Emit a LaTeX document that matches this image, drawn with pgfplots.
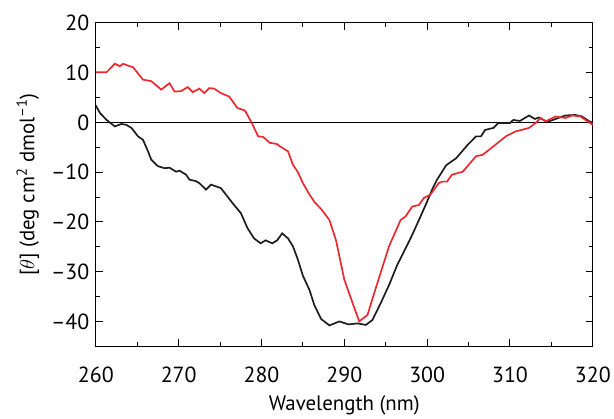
\documentclass[border=0pt]{standalone}
\usepackage{fontspec}
\setmainfont{PT Sans}
\usepackage{pgfplots}
\pgfplotsset{compat=1.18}
\usetikzlibrary{calc}
\definecolor{cdred}{RGB}{234,42,48}
\definecolor{cdblack}{RGB}{30,28,29}
\begin{document}
\begin{tikzpicture}
\begin{axis}[
    scale only axis,
    width=498bp, height=324bp,
    xmin=260, xmax=320,
    ymin=-45, ymax=20,
    xtick={260,270,...,320},
    ytick={-40,-30,...,20},
    yticklabels={\textendash40,\textendash30,\textendash20,\textendash10,0,10,20},
    minor x tick num=1,
    minor y tick num=1,
    tick align=inside,
    major tick length=7bp,
    minor tick length=4bp,
    tick style={black, line width=1pt},
    axis line style={line width=1pt},
    xticklabel style={/pgf/number format/1000 sep={}, yshift=-17bp},
    yticklabel style={xshift=-3bp},
    /pgf/number format/assume math mode=true,
    tick label style={font=\fontsize{22}{25}\selectfont},
    label style={font=\fontsize{21}{24}\selectfont},
    xlabel={Wavelength (nm)},
    ylabel={[$\theta$] (deg cm\textsuperscript{2} dmol\textsuperscript{\textendash1})},
    xlabel style={yshift=-6bp},
    ylabel style={yshift=5bp},
]
\addplot[black, line width=1.8pt] coordinates {(260,0) (320,0)};

% black curve
\addplot[cdblack, line width=1.7pt] coordinates {
(260,3.4) (260.5,1.9) (261.3,0.5) (262.3,-0.8) (263.1,-0.3) (263.7,-0.5)
(264.3,-1.1) (265.1,-2.8) (265.7,-3.5) (266.3,-5.8) (266.7,-7.5) (267.5,-8.8)
(268.3,-9.2) (268.9,-9.1) (269.7,-9.9) (270.1,-9.7) (270.9,-10.5) (271.3,-11.5)
(272.1,-11.8) (272.5,-12.2) (273.3,-13.5) (273.9,-12.5) (275.1,-13.2) (276.5,-16.2)
(277.5,-18.2) (278.3,-21.2) (279.1,-23.3) (279.9,-24.3) (280.5,-23.7) (281.3,-24.3)
(281.9,-23.7) (282.5,-22.3) (283.2,-23.3) (283.8,-24.9) (284.4,-27.6) (285.0,-30.8)
(285.8,-33.7) (286.4,-36.8) (287.2,-39.5) (288.2,-40.8) (289.4,-40.0) (290.5,-40.6)
(291.6,-40.4) (292.6,-40.7) (293.4,-39.7) (294.4,-36.3) (295.4,-32.7) (296.4,-28.6)
(297.4,-25.3) (298.2,-22.6) (299.2,-18.9) (300.0,-15.9) (300.6,-13.5) (301.2,-11.5)
(302.3,-8.6) (303.5,-7.2) (304.9,-4.5) (305.9,-2.8) (306.5,-2.8) (307.0,-1.5)
(308.0,-1.1) (308.6,-0.1) (310.0,-0.1) (310.4,0.5) (311.2,0.3) (312.3,1.4)
(313.0,0.7) (313.5,1.0) (314.5,0.1) (315.5,0.7) (316.7,1.4) (317.9,1.5)
(318.7,1.2) (319.5,0.3) (320,-0.1)
};

% red curve
\addplot[cdred, line width=1.7pt] coordinates {
(260,10.1) (261.3,10.1) (262.3,11.8) (262.9,11.3) (263.3,11.8) (264.1,11.3)
(264.5,11.1) (265.7,8.6) (266.7,8.3) (267.9,6.6) (268.9,7.9) (269.5,6.2)
(270.3,6.3) (271.1,7.1) (271.7,6.1) (272.5,6.8) (273.1,5.9) (273.7,6.9)
(274.3,6.8) (275.1,5.9) (276.1,5.2) (277.1,2.9) (278.0,2.4) (278.8,0)
(279.6,-2.8) (280.2,-2.9) (281.0,-4.1) (281.8,-4.3) (282.6,-5.2) (283.2,-5.8)
(283.8,-8.5) (284.4,-10.0) (285.0,-12.2) (285.8,-14.5) (286.4,-16.0) (287.2,-17.4)
(288.2,-19.6) (289.0,-23.7) (290.0,-31.6) (291.0,-36.3) (291.8,-40.0) (292.8,-38.7)
(293.8,-33.3) (295.4,-24.9) (296.8,-19.6) (297.4,-18.9) (298.2,-16.9) (299.0,-16.6)
(299.6,-15.2) (300.4,-14.5) (301.4,-12.2) (301.8,-11.9) (302.4,-11.9) (303.0,-10.5)
(304.3,-9.9) (305.9,-6.8) (306.7,-6.5) (307.7,-5.2) (309.5,-2.8) (310.7,-1.8)
(312.3,-1.1) (313.1,-0.1) (313.7,0.9) (314.3,0.2) (315.5,1.2) (316.7,0.9)
(317.5,1.4) (318.5,1.2) (319.3,0.3) (320,-0.5)
};
\end{axis}
\useasboundingbox ($(current axis.south west)+(-96bp,-67bp)$) rectangle ($(current axis.north east)+(20bp,23bp)$);
\end{tikzpicture}
\end{document}
